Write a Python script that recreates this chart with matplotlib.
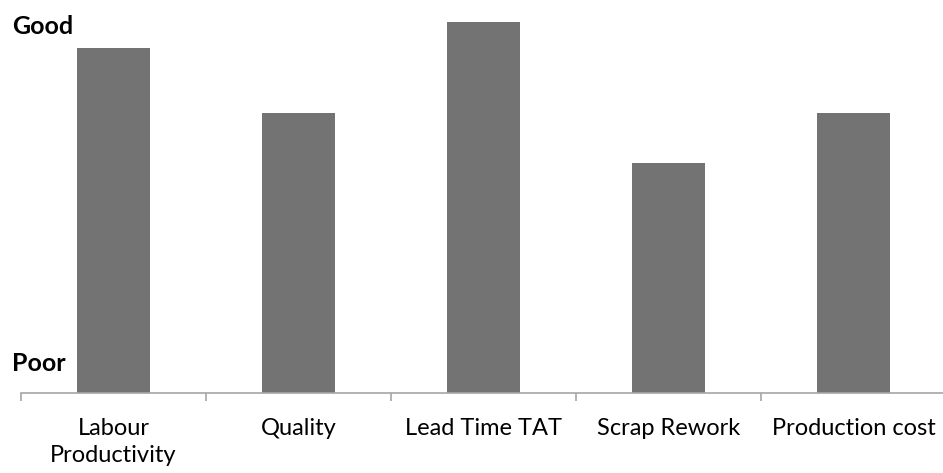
import matplotlib
matplotlib.use("Agg")
import matplotlib.pyplot as plt

categories = ["Labour\nProductivity", "Quality", "Lead Time TAT", "Scrap Rework", "Production cost"]
scores = [9.3, 7.55, 10.0, 6.2, 7.55]

plt.rcParams['font.family'] = ['Lato', 'DejaVu Sans']

W, H = 943, 473
fig = plt.figure(figsize=(W / 100, H / 100), dpi=100)
ax = fig.add_axes([21 / W, 80 / H, 925 / W, 371 / H])

x = list(range(len(categories)))
ax.bar(x, scores, width=0.395, color='#737373', zorder=2)

ax.set_xlim(-0.5, len(categories) - 0.5)
ax.set_ylim(0, 10)
ax.set_yticks([])
for s in ['top', 'right', 'left']:
    ax.spines[s].set_visible(False)
ax.spines['bottom'].set_color('#a6a6a6')
ax.spines['bottom'].set_linewidth(1.2)

# tick marks at category boundaries, labels at centres
ax.set_xticks([i - 0.5 for i in range(len(categories) + 1)])
ax.set_xticklabels([])
ax.tick_params(axis='x', length=6, width=1.2, color='#a6a6a6', direction='out')
for i, lab in enumerate(categories):
    ax.text(i, -0.68, lab, ha='center', va='top', fontsize=17, color='black',
            linespacing=1.35)

fig.text(12 / W, 1 - 26 / H, "Good", fontsize=18, fontweight='bold', va='center', ha='left')
fig.text(12 / W, 1 - 363 / H, "Poor", fontsize=18, fontweight='bold', va='center', ha='left')

fig.savefig("out.png", dpi=100)
